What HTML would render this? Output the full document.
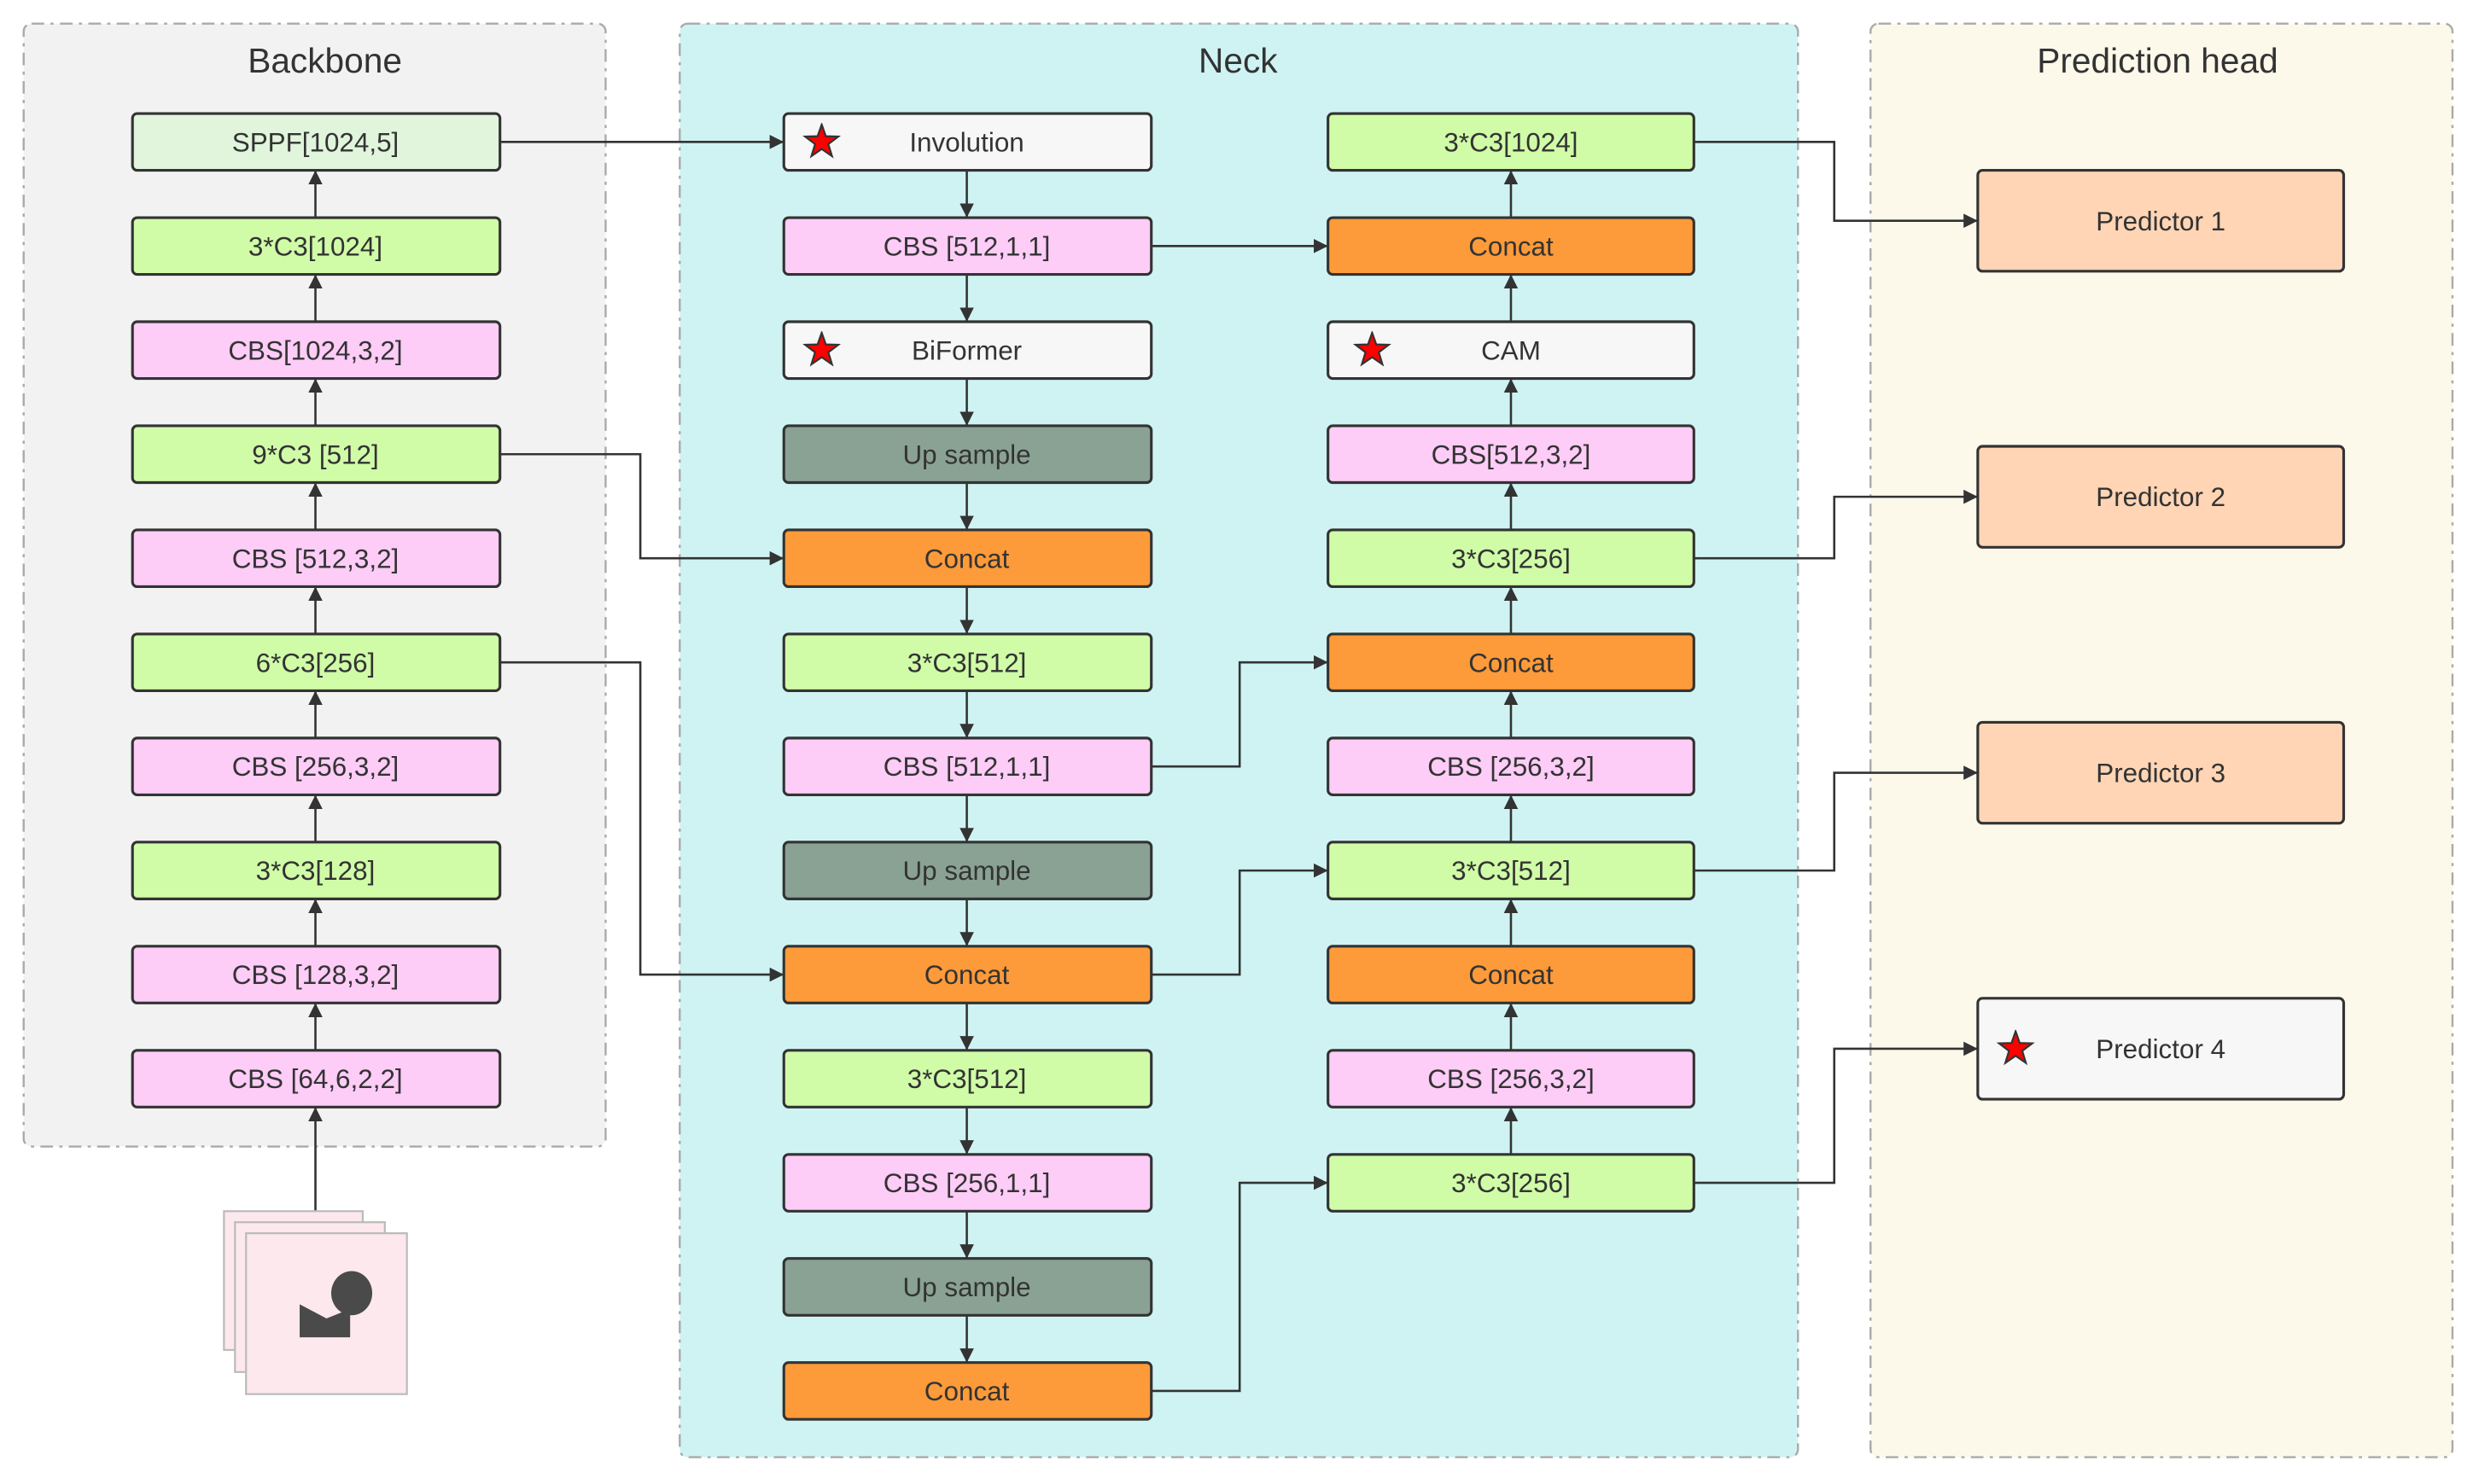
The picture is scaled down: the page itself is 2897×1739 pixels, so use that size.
<!DOCTYPE html>
<html><head><meta charset="utf-8"><style>
html,body{margin:0;padding:0;background:#fff;}
svg{display:block;}
text{font-family:"Liberation Sans",sans-serif;fill:#333;}
</style></head><body>
<svg width="2897" height="1739" viewBox="0 0 1568 941" preserveAspectRatio="none" xmlns="http://www.w3.org/2000/svg">
<defs>
<marker id="a" viewBox="0 0 10 10" refX="10" refY="5" markerWidth="9" markerHeight="9" orient="auto-start-reverse" markerUnits="userSpaceOnUse">
<path d="M0,0 L10,5 L0,10 z" fill="#333"/></marker>
<symbol id="st" viewBox="-12 -12 24 24"><polygon points="0,-11 2.6,-3.6 10.5,-3.4 4.2,1.4 6.5,9 0,4.5 -6.5,9 -4.2,1.4 -10.5,-3.4 -2.6,-3.6" fill="#ff0000" stroke="#333" stroke-width="1.2"/></symbol>
</defs>
<rect x="15" y="15" width="369" height="712" rx="5" fill="#f2f2f2" stroke="#aaa" stroke-width="1.3" stroke-dasharray="8,4,2,4"/>
<rect x="431" y="15" width="709" height="909" rx="5" fill="#cff3f3" stroke="#aaa" stroke-width="1.3" stroke-dasharray="8,4,2,4"/>
<rect x="1186" y="15" width="369" height="909" rx="5" fill="#fcf8ea" stroke="#aaa" stroke-width="1.3" stroke-dasharray="8,4,2,4"/>
<text x="206" y="46" font-size="22" text-anchor="middle">Backbone</text>
<text x="785" y="46" font-size="22" text-anchor="middle">Neck</text>
<text x="1368" y="46" font-size="22" text-anchor="middle">Prediction head</text>

<g stroke="#333" stroke-width="1.4" fill="none">
<line x1="200" y1="138" x2="200" y2="108" marker-end="url(#a)"/>
<line x1="200" y1="204" x2="200" y2="174" marker-end="url(#a)"/>
<line x1="200" y1="270" x2="200" y2="240" marker-end="url(#a)"/>
<line x1="200" y1="336" x2="200" y2="306" marker-end="url(#a)"/>
<line x1="200" y1="402" x2="200" y2="372" marker-end="url(#a)"/>
<line x1="200" y1="468" x2="200" y2="438" marker-end="url(#a)"/>
<line x1="200" y1="534" x2="200" y2="504" marker-end="url(#a)"/>
<line x1="200" y1="600" x2="200" y2="570" marker-end="url(#a)"/>
<line x1="200" y1="666" x2="200" y2="636" marker-end="url(#a)"/>
<line x1="200" y1="768" x2="200" y2="702" marker-end="url(#a)"/>
<polyline points="317,90 497,90" marker-end="url(#a)"/>
<polyline points="317,288 406,288 406,354 497,354" marker-end="url(#a)"/>
<polyline points="317,420 406,420 406,618 497,618" marker-end="url(#a)"/>
<line x1="613" y1="108" x2="613" y2="138" marker-end="url(#a)"/>
<line x1="613" y1="174" x2="613" y2="204" marker-end="url(#a)"/>
<line x1="613" y1="240" x2="613" y2="270" marker-end="url(#a)"/>
<line x1="613" y1="306" x2="613" y2="336" marker-end="url(#a)"/>
<line x1="613" y1="372" x2="613" y2="402" marker-end="url(#a)"/>
<line x1="613" y1="438" x2="613" y2="468" marker-end="url(#a)"/>
<line x1="613" y1="504" x2="613" y2="534" marker-end="url(#a)"/>
<line x1="613" y1="570" x2="613" y2="600" marker-end="url(#a)"/>
<line x1="613" y1="636" x2="613" y2="666" marker-end="url(#a)"/>
<line x1="613" y1="702" x2="613" y2="732" marker-end="url(#a)"/>
<line x1="613" y1="768" x2="613" y2="798" marker-end="url(#a)"/>
<line x1="613" y1="834" x2="613" y2="864" marker-end="url(#a)"/>
<polyline points="730,156 842,156" marker-end="url(#a)"/>
<polyline points="730,486 786,486 786,420 842,420" marker-end="url(#a)"/>
<polyline points="730,618 786,618 786,552 842,552" marker-end="url(#a)"/>
<polyline points="730,882 786,882 786,750 842,750" marker-end="url(#a)"/>
<line x1="958" y1="138" x2="958" y2="108" marker-end="url(#a)"/>
<line x1="958" y1="204" x2="958" y2="174" marker-end="url(#a)"/>
<line x1="958" y1="270" x2="958" y2="240" marker-end="url(#a)"/>
<line x1="958" y1="336" x2="958" y2="306" marker-end="url(#a)"/>
<line x1="958" y1="402" x2="958" y2="372" marker-end="url(#a)"/>
<line x1="958" y1="468" x2="958" y2="438" marker-end="url(#a)"/>
<line x1="958" y1="534" x2="958" y2="504" marker-end="url(#a)"/>
<line x1="958" y1="600" x2="958" y2="570" marker-end="url(#a)"/>
<line x1="958" y1="666" x2="958" y2="636" marker-end="url(#a)"/>
<line x1="958" y1="732" x2="958" y2="702" marker-end="url(#a)"/>
<polyline points="1074,90 1163,90 1163,140 1254,140" marker-end="url(#a)"/>
<polyline points="1074,354 1163,354 1163,315 1254,315" marker-end="url(#a)"/>
<polyline points="1074,552 1163,552 1163,490 1254,490" marker-end="url(#a)"/>
<polyline points="1074,750 1163,750 1163,665 1254,665" marker-end="url(#a)"/>
</g>

<g stroke="#333" stroke-width="1.7" font-size="17" text-anchor="middle">
<rect x="84" y="72" width="233" height="36" rx="3" fill="#e0f5dc"/>
<rect x="84" y="138" width="233" height="36" rx="3" fill="#d0fca8"/>
<rect x="84" y="204" width="233" height="36" rx="3" fill="#fdccf7"/>
<rect x="84" y="270" width="233" height="36" rx="3" fill="#d0fca8"/>
<rect x="84" y="336" width="233" height="36" rx="3" fill="#fdccf7"/>
<rect x="84" y="402" width="233" height="36" rx="3" fill="#d0fca8"/>
<rect x="84" y="468" width="233" height="36" rx="3" fill="#fdccf7"/>
<rect x="84" y="534" width="233" height="36" rx="3" fill="#d0fca8"/>
<rect x="84" y="600" width="233" height="36" rx="3" fill="#fdccf7"/>
<rect x="84" y="666" width="233" height="36" rx="3" fill="#fdccf7"/>
<rect x="497" y="72" width="233" height="36" rx="3" fill="#f7f7f7"/>
<rect x="497" y="138" width="233" height="36" rx="3" fill="#fdccf7"/>
<rect x="497" y="204" width="233" height="36" rx="3" fill="#f7f7f7"/>
<rect x="497" y="270" width="233" height="36" rx="3" fill="#8aa294"/>
<rect x="497" y="336" width="233" height="36" rx="3" fill="#fd9a3a"/>
<rect x="497" y="402" width="233" height="36" rx="3" fill="#d0fca8"/>
<rect x="497" y="468" width="233" height="36" rx="3" fill="#fdccf7"/>
<rect x="497" y="534" width="233" height="36" rx="3" fill="#8aa294"/>
<rect x="497" y="600" width="233" height="36" rx="3" fill="#fd9a3a"/>
<rect x="497" y="666" width="233" height="36" rx="3" fill="#d0fca8"/>
<rect x="497" y="732" width="233" height="36" rx="3" fill="#fdccf7"/>
<rect x="497" y="798" width="233" height="36" rx="3" fill="#8aa294"/>
<rect x="497" y="864" width="233" height="36" rx="3" fill="#fd9a3a"/>
<rect x="842" y="72" width="232" height="36" rx="3" fill="#d0fca8"/>
<rect x="842" y="138" width="232" height="36" rx="3" fill="#fd9a3a"/>
<rect x="842" y="204" width="232" height="36" rx="3" fill="#f7f7f7"/>
<rect x="842" y="270" width="232" height="36" rx="3" fill="#fdccf7"/>
<rect x="842" y="336" width="232" height="36" rx="3" fill="#d0fca8"/>
<rect x="842" y="402" width="232" height="36" rx="3" fill="#fd9a3a"/>
<rect x="842" y="468" width="232" height="36" rx="3" fill="#fdccf7"/>
<rect x="842" y="534" width="232" height="36" rx="3" fill="#d0fca8"/>
<rect x="842" y="600" width="232" height="36" rx="3" fill="#fd9a3a"/>
<rect x="842" y="666" width="232" height="36" rx="3" fill="#fdccf7"/>
<rect x="842" y="732" width="232" height="36" rx="3" fill="#d0fca8"/>
<rect x="1254" y="108" width="232" height="64" rx="3" fill="#ffd5b5"/>
<rect x="1254" y="283" width="232" height="64" rx="3" fill="#ffd5b5"/>
<rect x="1254" y="458" width="232" height="64" rx="3" fill="#ffd5b5"/>
<rect x="1254" y="633" width="232" height="64" rx="3" fill="#f7f7f7"/>
</g>

<g font-size="17" text-anchor="middle">
<text x="200" y="96">SPPF[1024,5]</text>
<text x="200" y="162">3*C3[1024]</text>
<text x="200" y="228">CBS[1024,3,2]</text>
<text x="200" y="294">9*C3 [512]</text>
<text x="200" y="360">CBS [512,3,2]</text>
<text x="200" y="426">6*C3[256]</text>
<text x="200" y="492">CBS [256,3,2]</text>
<text x="200" y="558">3*C3[128]</text>
<text x="200" y="624">CBS [128,3,2]</text>
<text x="200" y="690">CBS [64,6,2,2]</text>
<text x="613" y="96">Involution</text>
<text x="613" y="162">CBS [512,1,1]</text>
<text x="613" y="228">BiFormer</text>
<text x="613" y="294">Up sample</text>
<text x="613" y="360">Concat</text>
<text x="613" y="426">3*C3[512]</text>
<text x="613" y="492">CBS [512,1,1]</text>
<text x="613" y="558">Up sample</text>
<text x="613" y="624">Concat</text>
<text x="613" y="690">3*C3[512]</text>
<text x="613" y="756">CBS [256,1,1]</text>
<text x="613" y="822">Up sample</text>
<text x="613" y="888">Concat</text>
<text x="958" y="96">3*C3[1024]</text>
<text x="958" y="162">Concat</text>
<text x="958" y="228">CAM</text>
<text x="958" y="294">CBS[512,3,2]</text>
<text x="958" y="360">3*C3[256]</text>
<text x="958" y="426">Concat</text>
<text x="958" y="492">CBS [256,3,2]</text>
<text x="958" y="558">3*C3[512]</text>
<text x="958" y="624">Concat</text>
<text x="958" y="690">CBS [256,3,2]</text>
<text x="958" y="756">3*C3[256]</text>
<text x="1370" y="146">Predictor 1</text>
<text x="1370" y="321">Predictor 2</text>
<text x="1370" y="496">Predictor 3</text>
<text x="1370" y="671">Predictor 4</text>
</g>

<use href="#st" x="509" y="78" width="24" height="24"/>
<use href="#st" x="509" y="210" width="24" height="24"/>
<use href="#st" x="858" y="210" width="24" height="24"/>
<use href="#st" x="1266" y="653" width="24" height="24"/>

<g stroke="#bbb" stroke-width="1.2" fill="#fde8ee">
<rect x="142" y="768" width="88" height="88"/>
<rect x="149" y="775" width="95" height="95"/>
<rect x="156" y="782" width="102" height="102"/>
</g>
<ellipse cx="223" cy="820" rx="13" ry="14" fill="#4a4a4a"/>
<polygon points="190,827 207,836 222,830 222,848 190,848" fill="#4a4a4a"/>
</svg>
</body></html>
